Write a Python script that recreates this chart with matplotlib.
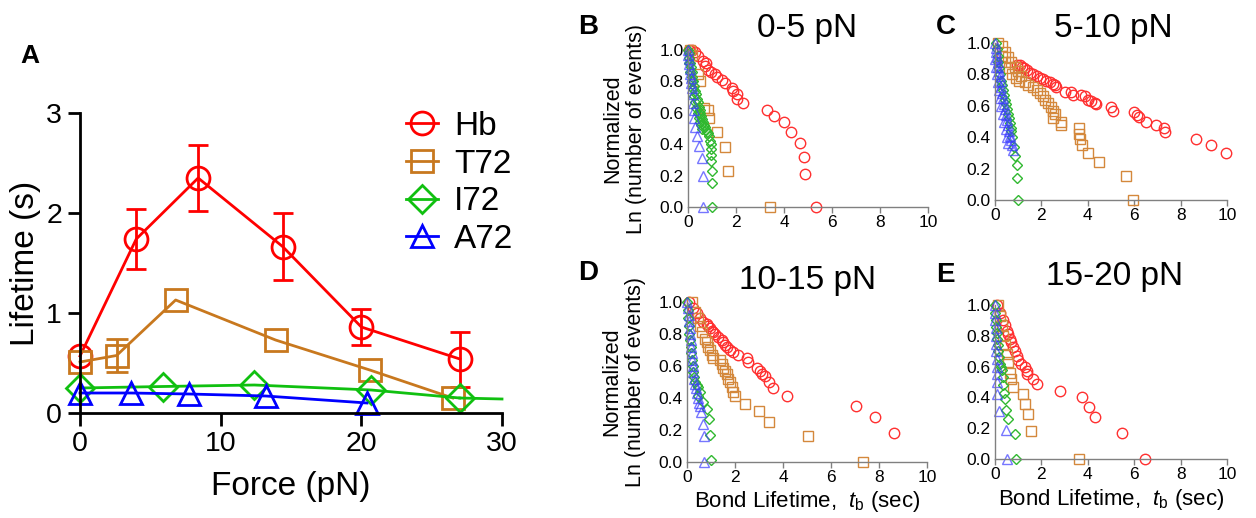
import matplotlib
matplotlib.use('Agg')
import matplotlib.pyplot as plt
import numpy as np

plt.rcParams['font.family'] = ['Liberation Sans', 'DejaVu Sans']
plt.rcParams['mathtext.fontset'] = 'custom'
plt.rcParams['mathtext.rm'] = 'Liberation Sans'
plt.rcParams['mathtext.it'] = 'Liberation Sans:italic'

# ---- Panel A : lifetime vs force ----
force_hb = [0, 4.0, 8.4, 14.4, 20.0, 27.0]
life_hb = [0.57, 1.74, 2.35, 1.665, 0.86, 0.54]
err_hb = [0, 0.30, 0.33, 0.335, 0.18, 0.275]

force_t72 = [0, 2.6, 6.8, 13.9, 20.6, 26.5]
life_t72 = [0.51, 0.575, 1.13, 0.73, 0.43, 0.15]
err_t72 = [0, 0.165, 0, 0, 0, 0]

force_i72 = [0, 5.9, 12.4, 20.7, 27.0]
life_i72 = [0.25, 0.265, 0.28, 0.23, 0.15]
i72_tail_x = [27.0, 30.0]
i72_tail_y = [0.15, 0.14]

force_a72 = [0, 3.6, 7.75, 13.2, 20.4]
life_a72 = [0.20, 0.20, 0.19, 0.17, 0.10]

# ---- Panel B : 0-5 pN ----
b_hb_t = [0.05, 0.15, 0.29, 0.43, 0.64, 0.75, 0.71, 0.85, 0.94, 1.13, 1.22, 1.40, 1.54, 1.82, 1.89,
          2.03, 2.06, 2.31, 3.31, 3.58, 4.00, 4.29, 4.67, 4.83, 4.88, 5.33]
b_hb_y = [1.00, 1.00, 0.99, 0.96, 0.93, 0.92, 0.90, 0.87, 0.86, 0.85, 0.83, 0.81, 0.79, 0.76, 0.74,
          0.72, 0.69, 0.66, 0.62, 0.58, 0.54, 0.48, 0.41, 0.32, 0.21, 0.00]
b_t72_t = [0.10, 0.18, 0.42, 0.48, 0.68, 0.85, 0.89, 1.19, 1.54, 1.65, 3.42]
b_t72_y = [1.00, 0.97, 0.85, 0.80, 0.63, 0.62, 0.57, 0.48, 0.38, 0.23, 0.00]
b_i72_t = [0.00, 0.03, 0.06, 0.09, 0.12, 0.15, 0.18, 0.21, 0.25, 0.28, 0.32, 0.36, 0.40, 0.44, 0.48,
           0.52, 0.56, 0.60, 0.64, 0.68, 0.72, 0.76, 0.80, 0.85, 0.89, 0.92, 0.94, 0.96, 0.94, 0.96,
           0.99, 1.01, 1.01, 0.05, 0.10, 0.15, 0.20, 0.25, 0.30, 0.35, 0.40, 0.45, 0.50, 0.55, 0.60]
b_i72_y = [1.00, 0.98, 0.95, 0.92, 0.89, 0.86, 0.83, 0.80, 0.77, 0.74, 0.72, 0.69, 0.67, 0.64, 0.62,
           0.60, 0.58, 0.56, 0.54, 0.52, 0.51, 0.49, 0.48, 0.47, 0.45, 0.42, 0.40, 0.37, 0.33, 0.29,
           0.23, 0.15, 0.00, 0.92, 0.86, 0.80, 0.75, 0.71, 0.67, 0.63, 0.60, 0.57, 0.54, 0.52, 0.50]
b_a72_t = [0.00, 0.02, 0.04, 0.06, 0.08, 0.10, 0.12, 0.14, 0.16, 0.19, 0.22, 0.25, 0.25, 0.29, 0.36,
           0.47, 0.57, 0.61, 0.64]
b_a72_y = [1.00, 0.97, 0.94, 0.91, 0.88, 0.85, 0.82, 0.79, 0.76, 0.72, 0.66, 0.62, 0.57, 0.51, 0.45,
           0.39, 0.31, 0.20, 0.00]

# ---- Panel C : 5-10 pN ----
c_hb_t = [0.93, 1.07, 1.17, 1.26, 1.36, 1.50, 1.64, 1.79, 1.93, 2.07, 2.21, 2.36, 2.50, 2.57, 2.64,
          3.03, 3.29, 3.36, 3.71, 3.86, 4.00, 4.14, 4.29, 4.36, 5.00, 5.07, 5.97, 6.11, 6.21, 6.50,
          6.93, 7.29, 7.33, 8.67, 9.31, 9.96]
c_hb_y = [0.86, 0.86, 0.85, 0.84, 0.83, 0.81, 0.80, 0.79, 0.78, 0.77, 0.76, 0.75, 0.74, 0.73, 0.72,
          0.69, 0.69, 0.67, 0.67, 0.66, 0.64, 0.63, 0.62, 0.61, 0.59, 0.57, 0.56, 0.54, 0.53, 0.50,
          0.48, 0.46, 0.43, 0.39, 0.35, 0.30]
c_t72_t = [0.14, 0.29, 0.43, 0.57, 0.71, 0.86, 1.00, 1.14, 1.29, 1.43, 0.30, 0.45, 0.60, 0.75, 0.90,
           1.05, 1.64, 1.79, 1.93, 2.07, 2.14, 2.29, 2.40, 2.50, 2.57, 2.50, 2.83, 2.86, 3.60, 3.64,
           3.67, 3.74, 4.03, 4.47, 5.64, 5.96]
c_t72_y = [1.00, 0.98, 0.94, 0.91, 0.88, 0.85, 0.82, 0.79, 0.75, 0.73, 0.92, 0.88, 0.84, 0.80, 0.78,
           0.76, 0.72, 0.70, 0.68, 0.66, 0.64, 0.62, 0.59, 0.57, 0.55, 0.52, 0.50, 0.48, 0.46, 0.42,
           0.39, 0.35, 0.30, 0.24, 0.15, 0.00]
c_i72_t = [0.03, 0.07, 0.11, 0.15, 0.19, 0.23, 0.27, 0.31, 0.35, 0.39, 0.43, 0.47, 0.51, 0.55, 0.59,
           0.63, 0.67, 0.71, 0.75, 0.80, 0.86, 0.93, 0.96, 0.97]
c_i72_y = [1.00, 0.96, 0.92, 0.88, 0.84, 0.80, 0.76, 0.73, 0.70, 0.67, 0.64, 0.61, 0.58, 0.55, 0.52,
           0.49, 0.46, 0.44, 0.40, 0.34, 0.28, 0.22, 0.14, 0.00]
c_a72_t = [0.00, 0.03, 0.06, 0.09, 0.12, 0.15, 0.18, 0.21, 0.24, 0.28, 0.32, 0.36, 0.40, 0.44, 0.48,
           0.52, 0.56, 0.60, 0.64, 0.68, 0.72, 0.76, 0.02, 0.05, 0.08, 0.12, 0.16, 0.22, 0.28, 0.34,
           0.40, 0.46, 0.52, 0.58]
c_a72_y = [1.00, 0.97, 0.94, 0.91, 0.88, 0.85, 0.82, 0.79, 0.76, 0.72, 0.68, 0.65, 0.61, 0.58, 0.54,
           0.51, 0.48, 0.44, 0.41, 0.38, 0.35, 0.32, 0.90, 0.85, 0.80, 0.75, 0.70, 0.65, 0.60, 0.55,
           0.50, 0.45, 0.40, 0.36]

# ---- Panel D : 10-15 pN ----
d_hb_t = [0.10, 0.26, 0.40, 0.54, 0.68, 0.82, 0.89, 0.96, 1.03, 1.10, 1.17, 1.31, 1.44, 1.51, 1.58,
          1.65, 1.79, 1.93, 2.14, 2.49, 2.56, 2.90, 3.04, 3.11, 3.25, 3.43, 3.57, 4.15, 7.04, 7.83, 8.63]
d_hb_y = [1.00, 0.96, 0.93, 0.90, 0.875, 0.865, 0.85, 0.84, 0.82, 0.81, 0.80, 0.78, 0.76, 0.75, 0.73,
          0.72, 0.70, 0.69, 0.67, 0.65, 0.625, 0.59, 0.57, 0.55, 0.54, 0.50, 0.46, 0.41, 0.35, 0.28, 0.18]
d_t72_t = [0.19, 0.33, 0.47, 0.54, 0.61, 0.75, 0.82, 0.89, 0.96, 1.03, 1.10, 1.38, 1.44, 1.51, 1.58,
           1.65, 1.72, 1.79, 1.86, 1.93, 2.00, 2.42, 3.01, 3.43, 5.06, 7.32]
d_t72_y = [1.00, 0.94, 0.90, 0.85, 0.81, 0.77, 0.75, 0.72, 0.70, 0.67, 0.65, 0.64, 0.61, 0.59, 0.57,
           0.55, 0.52, 0.50, 0.47, 0.44, 0.41, 0.36, 0.32, 0.25, 0.16, 0.00]
d_i72_t = [0.02, 0.04, 0.06, 0.08, 0.10, 0.12, 0.15, 0.18, 0.20, 0.23, 0.27, 0.30, 0.35, 0.40, 0.47,
           0.54, 0.47, 0.68, 0.85, 0.93, 0.96, 0.99]
d_i72_y = [1.00, 0.95, 0.90, 0.85, 0.80, 0.76, 0.72, 0.68, 0.64, 0.60, 0.56, 0.53, 0.50, 0.48, 0.47,
           0.44, 0.41, 0.375, 0.33, 0.27, 0.17, 0.01]
d_a72_t = [0.02, 0.05, 0.07, 0.09, 0.11, 0.13, 0.15, 0.17, 0.19, 0.21, 0.24, 0.27, 0.30, 0.33, 0.36,
           0.40, 0.44, 0.48, 0.55, 0.57, 0.68, 0.71, 0.71]
d_a72_y = [1.00, 0.96, 0.92, 0.88, 0.84, 0.80, 0.76, 0.72, 0.68, 0.64, 0.60, 0.56, 0.52, 0.49, 0.46,
           0.43, 0.40, 0.37, 0.35, 0.31, 0.24, 0.16, 0.00]

# ---- Panel E : 15-20 pN ----
e_hb_t = [0.10, 0.21, 0.36, 0.43, 0.50, 0.57, 0.64, 0.71, 0.79, 0.86, 0.93, 1.00, 1.14, 1.31, 1.36,
          1.40, 1.64, 1.79, 2.79, 3.74, 4.04, 4.33, 5.47, 6.47]
e_hb_y = [1.00, 0.95, 0.90, 0.87, 0.83, 0.81, 0.78, 0.76, 0.73, 0.70, 0.67, 0.64, 0.62, 0.60, 0.57,
          0.55, 0.52, 0.49, 0.44, 0.40, 0.34, 0.27, 0.17, 0.00]
e_t72_t = [0.14, 0.21, 0.29, 0.36, 0.43, 0.50, 0.57, 0.64, 0.69, 0.79, 1.19, 1.29, 1.43, 1.57, 3.64]
e_t72_y = [1.00, 0.93, 0.87, 0.80, 0.74, 0.68, 0.63, 0.56, 0.52, 0.47, 0.42, 0.36, 0.29, 0.18, 0.00]
e_i72_t = [0.00, 0.02, 0.04, 0.06, 0.08, 0.10, 0.12, 0.15, 0.18, 0.22, 0.25, 0.29, 0.36, 0.36, 0.40,
           0.43, 0.46, 0.54, 0.86, 0.89]
e_i72_y = [1.00, 0.95, 0.90, 0.86, 0.82, 0.78, 0.74, 0.70, 0.66, 0.62, 0.60, 0.58, 0.53, 0.48, 0.43,
           0.39, 0.32, 0.26, 0.16, 0.00]
e_a72_t = [0.00, 0.01, 0.02, 0.03, 0.04, 0.05, 0.06, 0.07, 0.08, 0.09, 0.10, 0.10, 0.17, 0.46, 0.52]
e_a72_y = [1.00, 0.95, 0.90, 0.85, 0.80, 0.75, 0.70, 0.65, 0.60, 0.55, 0.50, 0.42, 0.31, 0.19, 0.00]

panel_titles = ['0-5 pN', '5-10 pN', '10-15 pN', '15-20 pN']
panel_letters = ['B', 'C', 'D', 'E']

# colours
RED, BROWN, GREEN, BLUE = '#ff0000', '#c8781e', '#10c010', '#0000ff'
S_RED, S_ORANGE, S_GREEN, S_BLUE = '#ff3030', '#d4883c', '#30b830', '#3c3cff'

W, H = 1256, 518
fig = plt.figure(figsize=(W / 100, H / 100), dpi=100)

def px_axes(x0, y0, x1, y1):
    # axes from pixel box (top-left origin)
    return fig.add_axes([x0 / W, 1 - y1 / H, (x1 - x0) / W, (y1 - y0) / H])

# ================= Panel A =================
axA = px_axes(80, 113, 502, 413)
lw = 2
mk = dict(mfc='none', mew=2, clip_on=False)

def err_part(x, y, e):
    x, y, e = np.array(x), np.array(y), np.array(e)
    m = e > 0
    return x[m], y[m], e[m]

xe, ye, ee = err_part(force_hb, life_hb, err_hb)
axA.errorbar(xe, ye, yerr=ee, fmt='none', ecolor=RED, elinewidth=2, capsize=7, capthick=2, clip_on=False)
xe, ye, ee = err_part(force_t72, life_t72, err_t72)
axA.errorbar(xe, ye, yerr=ee, fmt='none', ecolor=BROWN, elinewidth=2, capsize=8, capthick=2, clip_on=False)

axA.plot(force_hb, life_hb, '-', color=RED, lw=lw, marker='o', ms=16.5, mec=RED, label='Hb', **mk)
axA.plot(force_t72, life_t72, '-', color=BROWN, lw=lw, marker='s', ms=15.5, mec=BROWN, label='T72', **mk)
axA.plot(i72_tail_x, i72_tail_y, '-', color=GREEN, lw=lw, clip_on=False)
axA.plot(force_i72, life_i72, '-', color=GREEN, lw=lw, marker='D', ms=14, mec=GREEN, label='I72', **mk)
axA.plot(force_a72, life_a72, '-', color=BLUE, lw=lw, marker='^', ms=16, mec=BLUE, label='A72', **mk)

axA.set_xlim(0, 30)
axA.set_ylim(0, 3)
axA.set_xticks([0, 10, 20, 30])
axA.set_yticks([0, 1, 2, 3])
for s in ['top', 'right']:
    axA.spines[s].set_visible(False)
for s in ['left', 'bottom']:
    axA.spines[s].set_linewidth(2)
axA.tick_params(direction='out', length=9, width=2, labelsize=20.5, pad=4)
axA.set_xlabel('Force (pN)', fontsize=24, labelpad=10)
axA.set_ylabel('Lifetime (s)', fontsize=24, labelpad=4)
axA.legend(loc='upper left', bbox_to_anchor=(406 / W, 1 - 111 / H), bbox_transform=fig.transFigure,
           frameon=False, fontsize=24, handlelength=0.95, handletextpad=0.5, labelspacing=0.2,
           borderpad=0, borderaxespad=0, numpoints=1)
fig.text(30 / W, 1 - 56 / H, 'A', fontsize=19, fontweight='bold', ha='center', va='center')

# ================= Panels B-E =================
boxes = [(688, 50, 928, 207), (995, 43, 1227, 200), (687, 302, 927, 462), (995, 305, 1227, 459)]
title_pos = [(807, 29), (1113, 28), (808, 280), (1115, 276)]
letter_pos = [(588, 27), (946, 27), (588, 273), (945, 275)]
series = [
    (b_hb_t, b_hb_y, b_t72_t, b_t72_y, b_i72_t, b_i72_y, b_a72_t, b_a72_y),
    (c_hb_t, c_hb_y, c_t72_t, c_t72_y, c_i72_t, c_i72_y, c_a72_t, c_a72_y),
    (d_hb_t, d_hb_y, d_t72_t, d_t72_y, d_i72_t, d_i72_y, d_a72_t, d_a72_y),
    (e_hb_t, e_hb_y, e_t72_t, e_t72_y, e_i72_t, e_i72_y, e_a72_t, e_a72_y),
]

sm = dict(ls='none', mfc='none', mew=1.0, clip_on=False)
for i, (box, data) in enumerate(zip(boxes, series)):
    ax = px_axes(*box)
    ht, hy, tt, ty, it, iy, at, ay = data
    ax.plot(ht, hy, marker='o', ms=7.5, mec=S_RED, **sm)
    ax.plot(tt, ty, marker='s', ms=7.0, mec=S_ORANGE, **sm)
    ax.plot(it, iy, marker='D', ms=5.6, mec=S_GREEN, **sm)
    ax.plot(at, ay, marker='^', ms=6.5, mec=S_BLUE, alpha=0.7, **sm)
    ax.set_xlim(0, 10)
    ax.set_ylim(0, 1.0)
    ax.set_xticks([0, 2, 4, 6, 8, 10])
    ax.set_yticks([0, 0.2, 0.4, 0.6, 0.8, 1.0])
    ax.set_yticklabels(['0.0', '0.2', '0.4', '0.6', '0.8', '1.0'])
    for s in ['top', 'right']:
        ax.spines[s].set_visible(False)
    for s in ['left', 'bottom']:
        ax.spines[s].set_color('#808080')
        ax.spines[s].set_linewidth(1)
    ax.tick_params(axis='x', direction='out', length=4, width=1, color='#808080', labelsize=12.5, pad=2)
    ax.tick_params(axis='y', length=0, labelsize=12.5, pad=3)
    if i in (0, 2):
        ax.set_ylabel('Normalized\nLn (number of events)', fontsize=15.5, linespacing=1.2, labelpad=9)
    if i in (2, 3):
        ax.set_xlabel(r'Bond Lifetime,  $t_{\mathrm{b}}$ (sec)', fontsize=16, labelpad=3)
    tx, ty_ = title_pos[i]
    fig.text(tx / W, 1 - ty_ / H, panel_titles[i], fontsize=24, ha='center', va='center')
    lx, ly = letter_pos[i]
    fig.text(lx / W, 1 - ly / H, panel_letters[i], fontsize=20, fontweight='bold', ha='center', va='center')

fig.savefig('out.png', dpi=100)
